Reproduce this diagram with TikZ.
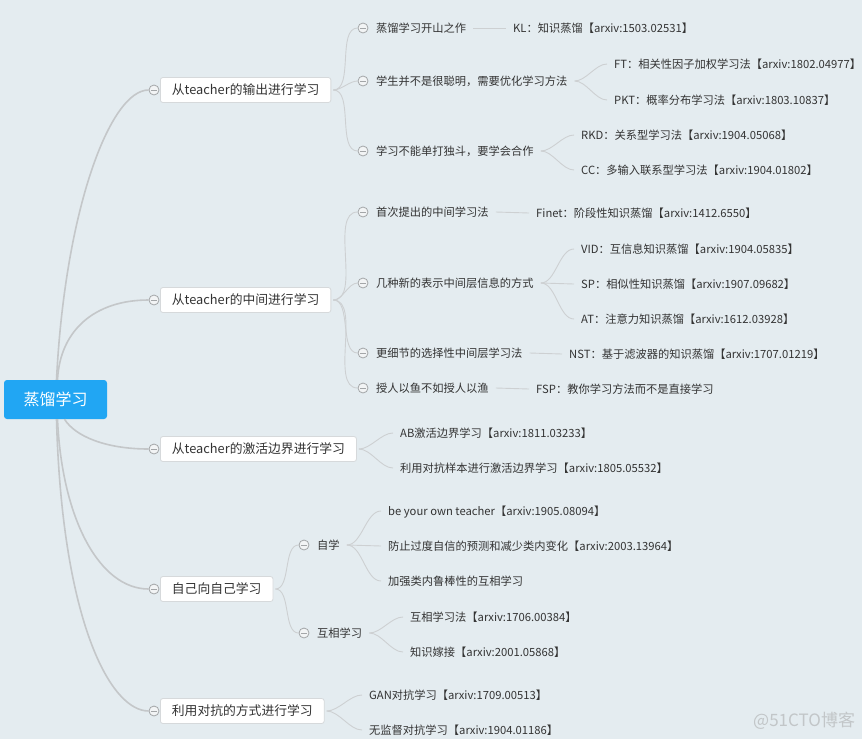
\documentclass[tikz,border=0pt]{standalone}
\usepackage{fontspec}
\setmainfont{Noto Sans CJK SC}
\usetikzlibrary{calc}
\definecolor{bg}{HTML}{E4ECF0}
\definecolor{rootblue}{HTML}{21A6F3}
\definecolor{boxline}{HTML}{D6D9DB}
\definecolor{txt}{HTML}{333333}
\definecolor{edgemain}{HTML}{C4C7C9}
\definecolor{edgesub}{HTML}{CDD0D2}
\definecolor{foldline}{HTML}{A3A6A8}
\definecolor{foldfill}{HTML}{F2F4F5}
\definecolor{wmark}{HTML}{C2C6C8}
\tikzset{
  rootbox/.style={fill=rootblue, rounded corners=3pt, text=white,
    font=\fontsize{16}{19}\selectfont, minimum width=103pt, minimum height=39pt,
    inner sep=0pt, text height=12.2pt, text depth=0pt},
  topic/.style={draw=boxline, fill=white, rounded corners=2.5pt, text=txt,
    font=\fontsize{12.8}{15}\selectfont, minimum height=25pt, inner xsep=11.5pt,
    inner ysep=0pt, text height=9.7pt, text depth=0pt, anchor=west, line width=0.8pt},
  subtext/.style={text=txt, font=\fontsize{11.25}{13}\selectfont, inner xsep=7pt,
    inner ysep=2pt, text height=8.5pt, text depth=0pt, anchor=west},
  fold/.style={circle, draw=foldline, fill=foldfill, minimum size=10pt, inner sep=0pt,
    line width=0.8pt,
    path picture={\draw[foldline, line width=0.8pt]
      ([xshift=-3pt]path picture bounding box.center) --
      ([xshift=3pt]path picture bounding box.center);}},
  mainedge/.style={draw=edgemain, line width=1.6pt},
  subedge/.style={draw=edgesub, line width=0.9pt},
  curvy/.style={out=0, in=180, looseness=0.8},
}
\begin{document}
\begin{tikzpicture}[x=1pt, y=-1pt]
\path[fill=bg] (0,0) rectangle (862,739);
\useasboundingbox (0,0) rectangle (862,739);

% root
\node[rootbox] (r) at (55.5,399.5) {蒸馏学习};

% level 1
\node[topic] (t1) at (160,90) {从teacher的输出进行学习};
\node[topic] (t2) at (160,300) {从teacher的中间进行学习};
\node[topic] (t3) at (160,449) {从teacher的激活边界进行学习};
\node[topic] (t4) at (160,589) {自己向自己学习};
\node[topic] (t5) at (160,711) {利用对抗的方式进行学习};
\node[fold] (c1) at (154,90) {};
\node[fold] (c2) at (154,300) {};
\node[fold] (c3) at (154,449) {};
\node[fold] (c4) at (154,589) {};
\node[fold] (c5) at (154,711) {};

\draw[mainedge] ([xshift=1pt]r.north) .. controls (65,210) and (110,90) .. (c1.west);
\draw[mainedge] ([xshift=2pt]r.north) .. controls (60,330) and (95,300) .. (c2.west);
\draw[mainedge] ([xshift=9pt]r.south) .. controls (75,436) and (105,449) .. (c3.west);
\draw[mainedge] ([xshift=2pt]r.south) .. controls (62,520) and (100,589) .. (c4.west);
\draw[mainedge] ([xshift=1pt]r.south) .. controls (62,620) and (110,711) .. (c5.west);

% ---- branch 1
\node[fold] (k11) at (363,28) {};
\node[fold] (k12) at (363,81) {};
\node[fold] (k13) at (363,151) {};
\node[subtext] (s11) at (369,28) {蒸馏学习开山之作};
\node[subtext] (s12) at (369,81) {学生并不是很聪明，需要优化学习方法};
\node[subtext] (s13) at (369,151) {学习不能单打独斗，要学会合作};
\node[subtext] (l111) at (506,28) {KL：知识蒸馏【arxiv:1503.02531】};
\node[subtext] (l121) at (607,64) {FT：相关性因子加权学习法【arxiv:1802.04977】};
\node[subtext] (l122) at (607,100) {PKT：概率分布学习法【arxiv:1803.10837】};
\node[subtext] (l131) at (574,135) {RKD：关系型学习法【arxiv:1904.05068】};
\node[subtext] (l132) at (574,170) {CC：多输入联系型学习法【arxiv:1904.01802】};
\foreach \k in {k11,k12,k13}
  \draw[subedge] ([xshift=2pt]t1.east) to[curvy] (\k.west);
\draw[subedge] (s11.east) -- (l111.west);
\draw[subedge] (s12.east) to[curvy] (l121.west);
\draw[subedge] (s12.east) to[curvy] (l122.west);
\draw[subedge] (s13.east) to[curvy] (l131.west);
\draw[subedge] (s13.east) to[curvy] (l132.west);

% ---- branch 2
\node[fold] (k21) at (363,212) {};
\node[fold] (k22) at (363,283) {};
\node[fold] (k23) at (363,353) {};
\node[fold] (k24) at (363,388) {};
\node[subtext] (s21) at (369,212) {首次提出的中间学习法};
\node[subtext] (s22) at (369,283) {几种新的表示中间层信息的方式};
\node[subtext] (s23) at (369,353) {更细节的选择性中间层学习法};
\node[subtext] (s24) at (369,388) {授人以鱼不如授人以渔};
\node[subtext] (l211) at (529,213) {Finet：阶段性知识蒸馏【arxiv:1412.6550】};
\node[subtext] (l221) at (574,249) {VID：互信息知识蒸馏【arxiv:1904.05835】};
\node[subtext] (l222) at (574,284) {SP：相似性知识蒸馏【arxiv:1907.09682】};
\node[subtext] (l223) at (574,319) {AT：注意力知识蒸馏【arxiv:1612.03928】};
\node[subtext] (l231) at (562,354) {NST：基于滤波器的知识蒸馏【arxiv:1707.01219】};
\node[subtext] (l241) at (529,389) {FSP：教你学习方法而不是直接学习};
\foreach \k in {k21,k22,k23,k24}
  \draw[subedge] ([xshift=2pt]t2.east) to[curvy] (\k.west);
\draw[subedge] (s21.east) -- (l211.west);
\draw[subedge] (s22.east) to[curvy] (l221.west);
\draw[subedge] (s22.east) -- (l222.west);
\draw[subedge] (s22.east) to[curvy] (l223.west);
\draw[subedge] (s23.east) -- (l231.west);
\draw[subedge] (s24.east) -- (l241.west);

% ---- branch 3
\node[subtext] (l31) at (393,433) {AB激活边界学习【arxiv:1811.03233】};
\node[subtext] (l32) at (393,468) {利用对抗样本进行激活边界学习【arxiv:1805.05532】};
\draw[subedge] ([xshift=2pt]t3.east) to[curvy] (l31.west);
\draw[subedge] ([xshift=2pt]t3.east) to[curvy] (l32.west);

% ---- branch 4
\node[fold] (k41) at (304,545) {};
\node[fold] (k42) at (304,633) {};
\node[subtext] (s41) at (310,545) {自学};
\node[subtext] (s42) at (310,633) {互相学习};
\node[subtext] (l411) at (381,511) {be your own teacher【arxiv:1905.08094】};
\node[subtext] (l412) at (381,546) {防止过度自信的预测和减少类内变化【arxiv:2003.13964】};
\node[subtext] (l413) at (381,581) {加强类内鲁棒性的互相学习};
\node[subtext] (l421) at (403,617) {互相学习法【arxiv:1706.00384】};
\node[subtext] (l422) at (403,652) {知识嫁接【arxiv:2001.05868】};
\draw[subedge] ([xshift=2pt]t4.east) to[curvy] (k41.west);
\draw[subedge] ([xshift=2pt]t4.east) to[curvy] (k42.west);
\draw[subedge] (s41.east) to[curvy] (l411.west);
\draw[subedge] (s41.east) -- (l412.west);
\draw[subedge] (s41.east) to[curvy] (l413.west);
\draw[subedge] (s42.east) to[curvy] (l421.west);
\draw[subedge] (s42.east) to[curvy] (l422.west);

% ---- branch 5
\node[subtext] (l51) at (362,695) {GAN对抗学习【arxiv:1709.00513】};
\node[subtext] (l52) at (362,730) {无监督对抗学习【arxiv:1904.01186】};
\draw[subedge] ([xshift=2pt]t5.east) to[curvy] (l51.west);
\draw[subedge] ([xshift=2pt]t5.east) to[curvy] (l52.west);

% watermark
\node[anchor=west, inner sep=0pt, text=wmark, font=\fontsize{17}{20}\selectfont] (wm) at (753,721) {@51CTO博客};
\end{tikzpicture}
\end{document}
